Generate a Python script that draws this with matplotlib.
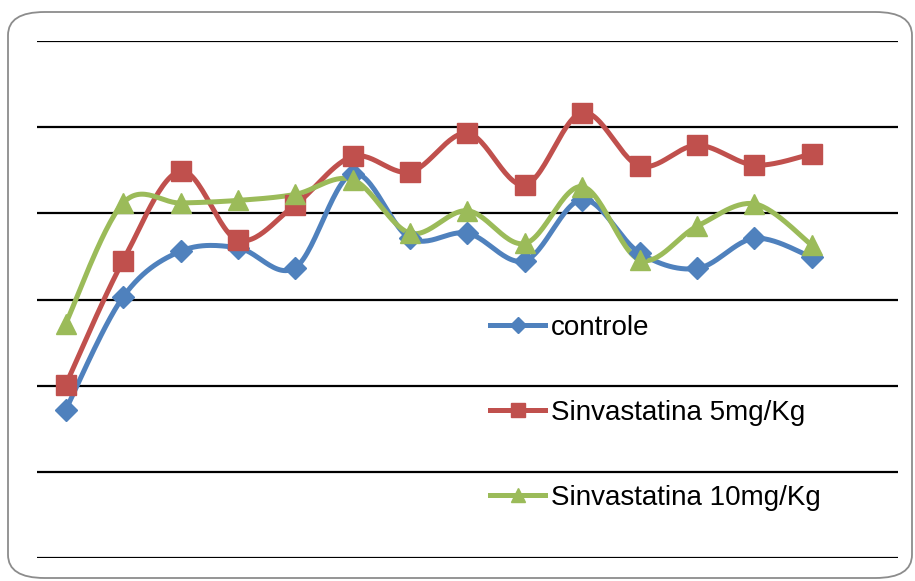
import numpy as np
import matplotlib
matplotlib.use("Agg")
import matplotlib.pyplot as plt
from matplotlib.patches import FancyBboxPatch

# weekly readings per group
semanas = list(range(1, 15))
controle = [17.2, 30.3, 35.6, 36.0, 33.7, 44.6, 37.1, 37.7, 34.5, 41.6, 35.4, 33.6, 37.1, 34.9]
sinva_5 = [20.1, 34.5, 44.9, 36.9, 41.0, 46.6, 44.8, 49.3, 43.3, 51.7, 45.5, 47.9, 45.6, 46.9]
sinva_10 = [27.2, 41.2, 41.2, 41.5, 42.2, 43.9, 37.7, 40.3, 36.5, 43.1, 34.6, 38.5, 41.1, 36.3]

series = [
    ("controle", controle, "#4F81BD", "D", 11),
    ("Sinvastatina 5mg/Kg", sinva_5, "#C0504D", "s", 14),
    ("Sinvastatina 10mg/Kg", sinva_10, "#9BBB59", "^", 14),
]


def suavizar(x, y, n=30):
    # catmull-rom through every point, like the spreadsheet "smoothed line"
    x = np.asarray(x, float)
    y = np.asarray(y, float)
    px = np.concatenate([[x[0]], x, [x[-1]]])
    py = np.concatenate([[y[0]], y, [y[-1]]])
    xs, ys = [], []
    for i in range(1, len(px) - 2):
        p0, p1, p2, p3 = (np.array([px[j], py[j]]) for j in range(i - 1, i + 3))
        c1 = p1 + (p2 - p0) / 6
        c2 = p2 - (p3 - p1) / 6
        t = np.linspace(0, 1, n)[:, None]
        b = ((1 - t) ** 3) * p1 + 3 * ((1 - t) ** 2) * t * c1 + 3 * (1 - t) * t ** 2 * c2 + t ** 3 * p2
        xs.append(b[:, 0])
        ys.append(b[:, 1])
    return np.concatenate(xs), np.concatenate(ys)


fig = plt.figure(figsize=(9.15, 5.81), dpi=100)
plt.rcParams['font.family'] = ['Liberation Sans', 'DejaVu Sans']

moldura = FancyBboxPatch((8 / 915, 3 / 581), 904 / 915, 566 / 581,
                         boxstyle="round,pad=0,rounding_size=0.04",
                         transform=fig.transFigure, facecolor="none",
                         edgecolor="#8C8C8C", linewidth=1.3, zorder=0)
fig.patches.append(moldura)

ax = fig.add_axes([37 / 915, 23 / 581, 861 / 915, 517 / 581])
ax.set_facecolor("none")
ax.set_xlim(0.5, 15.5)
ax.set_ylim(0, 60)
for v in range(0, 70, 10):
    ax.axhline(v, color="black", lw=1.6, zorder=1)
for s in ax.spines.values():
    s.set_visible(False)
ax.set_xticks([])
ax.set_yticks([])

for nome, vals, cor, mk, ms in series:
    sx, sy = suavizar(semanas, vals)
    ax.plot(sx, sy, color=cor, lw=3.6, solid_capstyle="round", zorder=3)
    ax.plot(semanas, vals, linestyle="none", marker=mk, markersize=ms,
            color=cor, zorder=4)
    ax.plot([], [], color=cor, lw=3.6, marker=mk, markersize=ms * 0.7, label=nome)

ax.legend(loc="upper left", bbox_to_anchor=(0.513, 0.492), frameon=False,
          fontsize=20, handlelength=2.0, handletextpad=0.2, labelspacing=2.12,
          borderaxespad=0)

fig.savefig("out.png", dpi=100)
